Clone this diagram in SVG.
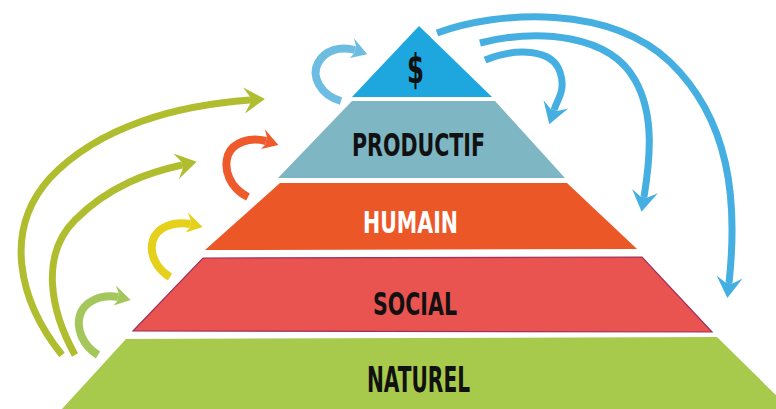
<svg xmlns="http://www.w3.org/2000/svg" width="776" height="409" viewBox="0 0 776 409">
<style>
.lbl{font-family:"Liberation Sans Narrow","DejaVu Sans Condensed","Liberation Sans",sans-serif;font-weight:bold;text-anchor:start;}
.arr{fill:none;stroke-linecap:butt;}
.blue{stroke:#45afe1;stroke-width:7;}
.lblue{stroke:#6dbde2;stroke-width:8;}
.orange{stroke:#ee5a2b;stroke-width:8;}
.yellow{stroke:#e5d01c;stroke-width:8;}
.lgreen{stroke:#a3c75a;stroke-width:8;}
.olive{stroke:#b0bd2e;stroke-width:7;}
</style>
<defs>
<marker id="hBlue" viewBox="-10 -15 30 30" markerWidth="30" markerHeight="30" refX="0" refY="0" orient="auto" markerUnits="userSpaceOnUse" overflow="visible"><polygon points="15,0 -6,-13 0,-3.5 0,3.5 -6,13" fill="#45afe1"/></marker>
<marker id="hLBlue" viewBox="-10 -15 30 30" markerWidth="30" markerHeight="30" refX="0" refY="0" orient="auto" markerUnits="userSpaceOnUse" overflow="visible"><polygon points="13,1 -4,-11 0,-4 0,4 -3,9" fill="#6dbde2"/></marker>
<marker id="hOrange" viewBox="-10 -15 30 30" markerWidth="30" markerHeight="30" refX="0" refY="0" orient="auto" markerUnits="userSpaceOnUse" overflow="visible"><polygon points="13,1 -4,-11 0,-4 0,4 -3,9" fill="#ee5a2b"/></marker>
<marker id="hYellow" viewBox="-10 -15 30 30" markerWidth="30" markerHeight="30" refX="0" refY="0" orient="auto" markerUnits="userSpaceOnUse" overflow="visible"><polygon points="13,1 -4,-11 0,-4 0,4 -3,9" fill="#e5d01c"/></marker>
<marker id="hLGreen" viewBox="-10 -15 30 30" markerWidth="30" markerHeight="30" refX="0" refY="0" orient="auto" markerUnits="userSpaceOnUse" overflow="visible"><polygon points="13,1 -4,-11 0,-4 0,4 -3,9" fill="#a3c75a"/></marker>
<marker id="hOlive" viewBox="-10 -15 30 30" markerWidth="30" markerHeight="30" refX="0" refY="0" orient="auto" markerUnits="userSpaceOnUse" overflow="visible"><polygon points="15,0 -6,-13 0,-3.5 0,3.5 -6,13" fill="#b0bd2e"/></marker>
</defs>
<rect width="776" height="409" fill="#ffffff"/>

<g id="naturel">
<polygon points="126,339 717,337 790,409 62,409" fill="#a7c94c"/>
<text class="lbl" x="367" y="392" font-size="35" textLength="103" lengthAdjust="spacingAndGlyphs" fill="#111">NATUREL</text>
</g>
<g id="social">
<polygon points="203,258 642,257 712,332 133,331" fill="#ea5450" stroke="#a0305c" stroke-width="1.2"/>
<text class="lbl" x="373" y="315" font-size="32" textLength="84" lengthAdjust="spacingAndGlyphs" fill="#111">SOCIAL</text>
</g>
<g id="humain">
<polygon points="280,183 567,183 637,249 205,250" fill="#ec5727"/>
<text class="lbl" x="363" y="233" font-size="31" textLength="95" lengthAdjust="spacingAndGlyphs" fill="#ffffff">HUMAIN</text>
</g>
<g id="productif">
<polygon points="352,101 495,101 565,178 278,178" fill="#7eb7c3"/>
<text class="lbl" x="352" y="156" font-size="32" textLength="133" lengthAdjust="spacingAndGlyphs" fill="#111">PRODUCTIF</text>
</g>
<g id="financier">
<polygon points="419,26 492,97 352,97" fill="#1ea6df"/>
<text class="lbl" x="407" y="83" font-size="40" textLength="17" lengthAdjust="spacingAndGlyphs" fill="#111">$</text>
</g>

<g id="connectors">
<path class="arr blue" d="M437,33 C500,10 610,5 670,62 C730,120 738,200 729,283" marker-end="url(#hBlue)"/>
<path class="arr blue" d="M480,43 C540,28 610,35 635,80 C655,115 650,160 644,197" marker-end="url(#hBlue)"/>
<path class="arr blue" d="M485,60 C515,48 552,48 560,72 C566,90 558,98 554,110" marker-end="url(#hBlue)"/>
<path class="arr lblue" d="M341,101 C320,95 311,76 318,63 C325,50 340,46 355,50" marker-end="url(#hLBlue)"/>
<path class="arr orange" d="M248,197 C230,188 223,170 228,155 C233,142 250,137 266,141" marker-end="url(#hOrange)"/>
<path class="arr yellow" d="M170,277 C155,268 149,252 153,240 C157,228 172,221 190,224" marker-end="url(#hYellow)"/>
<path class="arr lgreen" d="M98,355 C82,345 76,328 80,315 C84,302 100,294 118,297" marker-end="url(#hLGreen)"/>
<path class="arr olive" d="M62,355 C18,300 3,230 50,178 C100,125 180,105 250,100" marker-end="url(#hOlive)"/>
<path class="arr olive" d="M75,355 C50,310 40,255 75,220 C110,185 150,172 182,165" marker-end="url(#hOlive)"/>
</g>
</svg>
